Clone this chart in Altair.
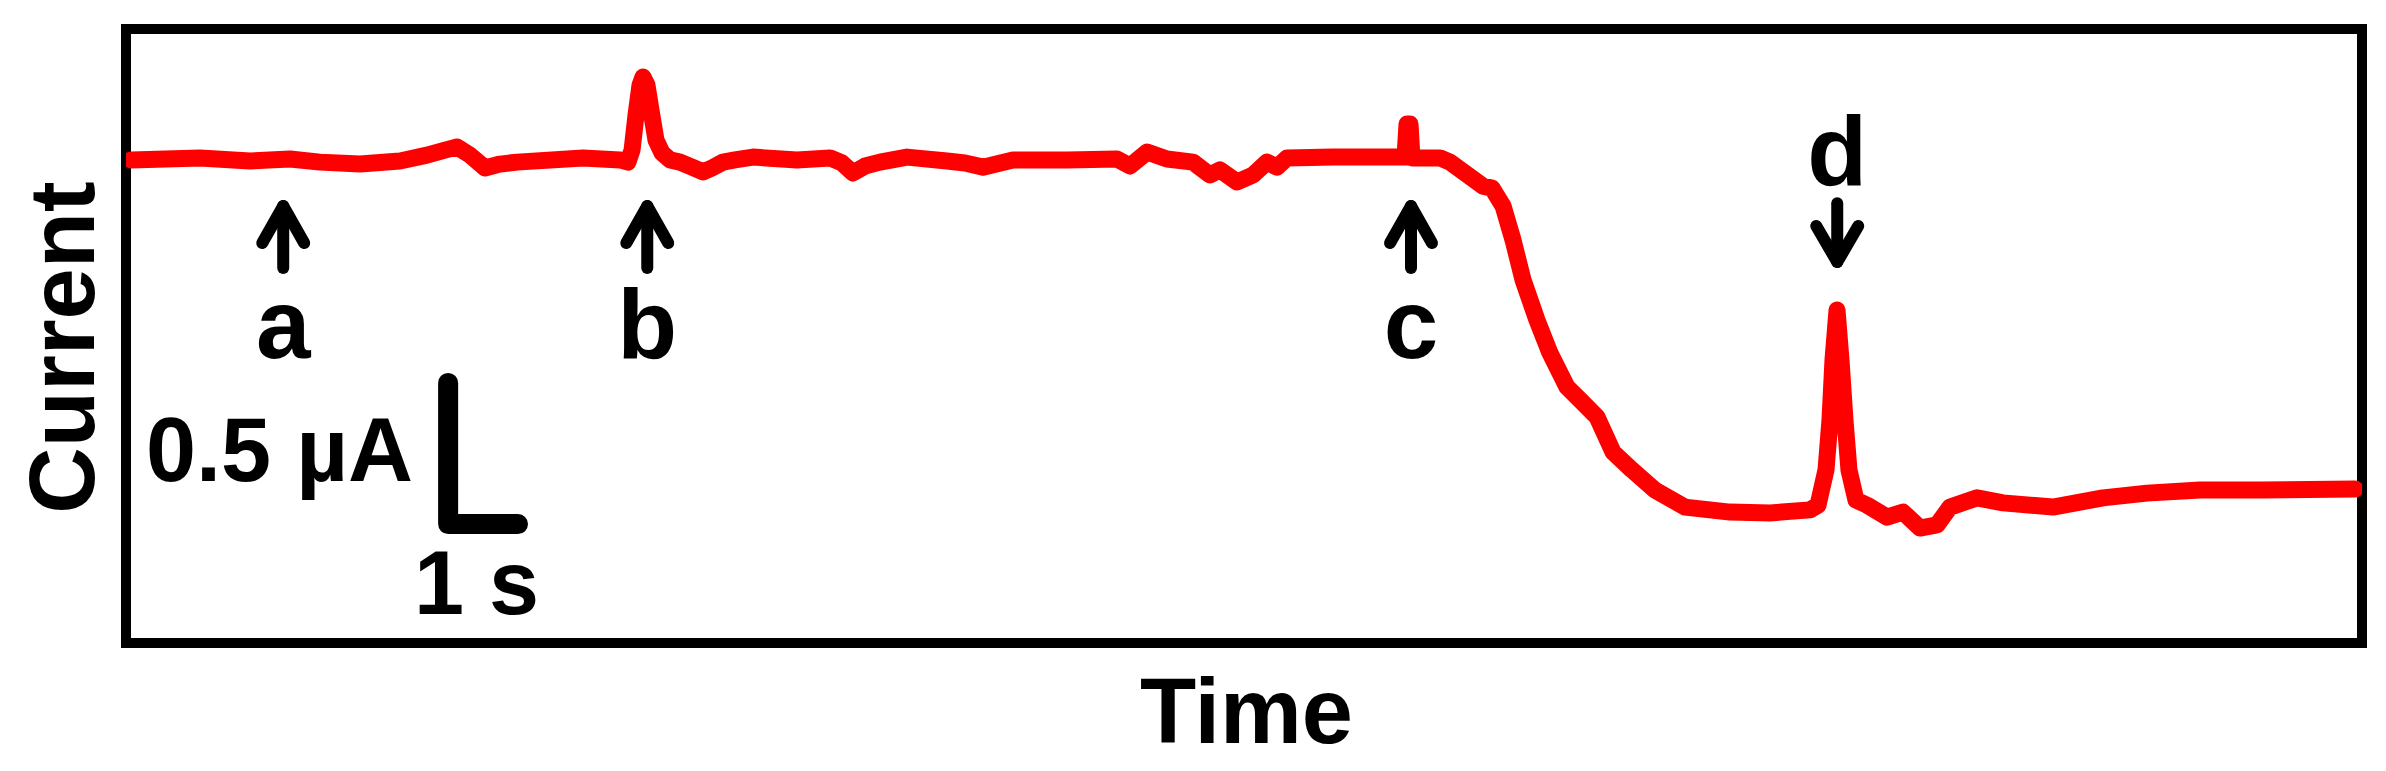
import altair as alt
import pandas as pd

# ---- data (time in s, current in µA, arbitrary offset) ----
time_s = [0.072, 1.059, 1.775, 2.347, 2.776, 3.349, 3.921, 4.308, 4.565, 4.737,
          4.923, 5.138, 5.352, 5.596, 6.540, 7.070, 7.184, 7.242, 7.299, 7.356,
          7.399, 7.456, 7.513, 7.585, 7.671, 7.785, 7.928, 8.100, 8.258, 8.386,
          8.544, 8.716, 8.973, 9.603, 10.075, 10.247, 10.404, 10.576, 10.791, 11.177,
          11.750, 12.007, 12.265, 12.694, 13.467, 14.182, 14.369, 14.612, 14.898, 15.270,
          15.513, 15.657, 15.900, 16.129, 16.329, 16.472, 16.615, 17.274, 18.190, 18.304,
          18.333, 18.376, 18.404, 18.805, 18.948, 19.420, 19.549, 19.707, 19.850, 19.993,
          20.193, 20.379, 20.623, 20.809, 21.052, 21.281, 21.553, 21.882, 22.311, 22.955,
          23.528, 24.100, 24.215, 24.329, 24.386, 24.429, 24.487, 24.544, 24.601, 24.658,
          24.758, 24.916, 25.202, 25.431, 25.674, 25.918, 26.104, 26.490, 26.862, 27.578,
          28.293, 28.923, 29.682, 30.555, 31.900]
current_uA = [1.731, 1.738, 1.727, 1.734, 1.723, 1.716, 1.727, 1.748, 1.766, 1.777,
              1.748, 1.702, 1.716, 1.723, 1.738, 1.731, 1.723, 1.766, 1.892, 1.999,
              2.028, 1.999, 1.910, 1.802, 1.756, 1.731, 1.723, 1.705, 1.688, 1.702,
              1.723, 1.731, 1.741, 1.731, 1.738, 1.720, 1.684, 1.709, 1.723, 1.741,
              1.727, 1.720, 1.705, 1.731, 1.731, 1.734, 1.709, 1.759, 1.734, 1.723,
              1.677, 1.695, 1.652, 1.677, 1.723, 1.705, 1.738, 1.741, 1.741, 1.741,
              1.860, 1.860, 1.738, 1.738, 1.723, 1.637, 1.630, 1.566, 1.444, 1.301,
              1.157, 1.039, 0.917, 0.871, 0.810, 0.684, 0.620, 0.548, 0.487, 0.469,
              0.466, 0.477, 0.494, 0.620, 0.799, 1.014, 1.193, 1.014, 0.799, 0.620,
              0.512, 0.494, 0.451, 0.469, 0.412, 0.423, 0.487, 0.520, 0.502, 0.487,
              0.520, 0.537, 0.548, 0.548, 0.552]

# event markers
event_labels = ["a", "b", "c", "d"]
event_times = [2.25, 7.46, 18.39, 24.49]
arrow_tail = [1.344, 1.344, 1.344, 1.576]
arrow_tip = [1.566, 1.566, 1.566, 1.365]
arrow_wing = [1.433, 1.433, 1.433, 1.494]
label_level = [1.021, 1.021, 1.021, 1.641]

# scale bar: 1 s by 0.5 µA
bar_t = [4.61, 4.61, 5.61]
bar_i = [0.932, 0.426, 0.426]
bar_text = ["0.5 µA", "1 s"]
bar_text_t = [4.107, 5.016]
bar_text_i = [0.580, 0.104]

FONT = "Liberation Sans"
WING_DT = 0.30

trace = pd.DataFrame({"t": time_s, "i": current_uA})

rows = []
for k in range(len(event_times)):
    t0 = event_times[k]
    rows.append({"seg": f"{k}s", "o": 0, "t": t0, "i": arrow_tail[k]})
    rows.append({"seg": f"{k}s", "o": 1, "t": t0, "i": arrow_tip[k]})
    rows.append({"seg": f"{k}h", "o": 0, "t": t0 - WING_DT, "i": arrow_wing[k]})
    rows.append({"seg": f"{k}h", "o": 1, "t": t0, "i": arrow_tip[k]})
    rows.append({"seg": f"{k}h", "o": 2, "t": t0 + WING_DT, "i": arrow_wing[k]})
arrows = pd.DataFrame(rows)

labels = pd.DataFrame({"t": event_times, "i": label_level, "txt": event_labels})
bar = pd.DataFrame({"o": [0, 1, 2], "t": bar_t, "i": bar_i})
bar_labels = pd.DataFrame({"t": bar_text_t, "i": bar_text_i, "txt": bar_text})

xs = alt.Scale(domain=[0, 32], nice=False, zero=False)
ys = alt.Scale(domain=[0, 2.2], nice=False, zero=False)

x_axis = alt.Axis(title="Time", labels=False, ticks=False, domain=False, grid=False,
                  titleFont=FONT, titleFontSize=92, titleFontWeight="bold",
                  titleColor="black", titleX=1120, titleY=99,
                  titleBaseline="alphabetic", titleAlign="center")
y_axis = alt.Axis(title="Current", labels=False, ticks=False, domain=False, grid=False,
                  titleFont=FONT, titleFontSize=92, titleFontWeight="bold",
                  titleColor="black", titleX=-33, titleY=318, titleAngle=270,
                  titleBaseline="alphabetic", titleAlign="center")

line = alt.Chart(trace).mark_line(
    color="#FF0000", strokeWidth=17, clip=True, strokeJoin="round", strokeCap="round"
).encode(
    x=alt.X("t:Q", scale=xs, axis=x_axis),
    y=alt.Y("i:Q", scale=ys, axis=y_axis),
)

arrow_layer = alt.Chart(arrows).mark_line(
    color="black", strokeWidth=12, strokeCap="round", strokeJoin="round"
).encode(
    x=alt.X("t:Q", scale=xs), y=alt.Y("i:Q", scale=ys),
    detail="seg:N", order="o:Q",
)

label_layer = alt.Chart(labels).mark_text(
    font=FONT, fontSize=98, fontWeight="bold", color="black",
    align="center", baseline="alphabetic"
).encode(x=alt.X("t:Q", scale=xs), y=alt.Y("i:Q", scale=ys), text="txt:N")

bar_layer = alt.Chart(bar).mark_line(
    color="black", strokeWidth=20, strokeCap="round", strokeJoin="round"
).encode(x=alt.X("t:Q", scale=xs), y=alt.Y("i:Q", scale=ys), order="o:Q")

bar_label_right = alt.Chart(bar_labels.iloc[[0]]).mark_text(
    font=FONT, fontSize=90, fontWeight="bold", color="black",
    align="right", baseline="alphabetic"
).encode(x=alt.X("t:Q", scale=xs), y=alt.Y("i:Q", scale=ys), text="txt:N")

bar_label_center = alt.Chart(bar_labels.iloc[[1]]).mark_text(
    font=FONT, fontSize=90, fontWeight="bold", color="black",
    align="center", baseline="alphabetic"
).encode(x=alt.X("t:Q", scale=xs), y=alt.Y("i:Q", scale=ys), text="txt:N")

chart = alt.layer(
    line, arrow_layer, label_layer, bar_layer, bar_label_right, bar_label_center
).properties(
    width=2236, height=614,
    padding={"left": 118, "top": 21, "right": 16, "bottom": 120},
    autosize=alt.AutoSizeParams(type="none"),
    background="white",
).configure_view(
    stroke="black", strokeWidth=10, fill="white"
)

chart.save("out.html", embed_options={"renderer": "svg", "actions": False})
